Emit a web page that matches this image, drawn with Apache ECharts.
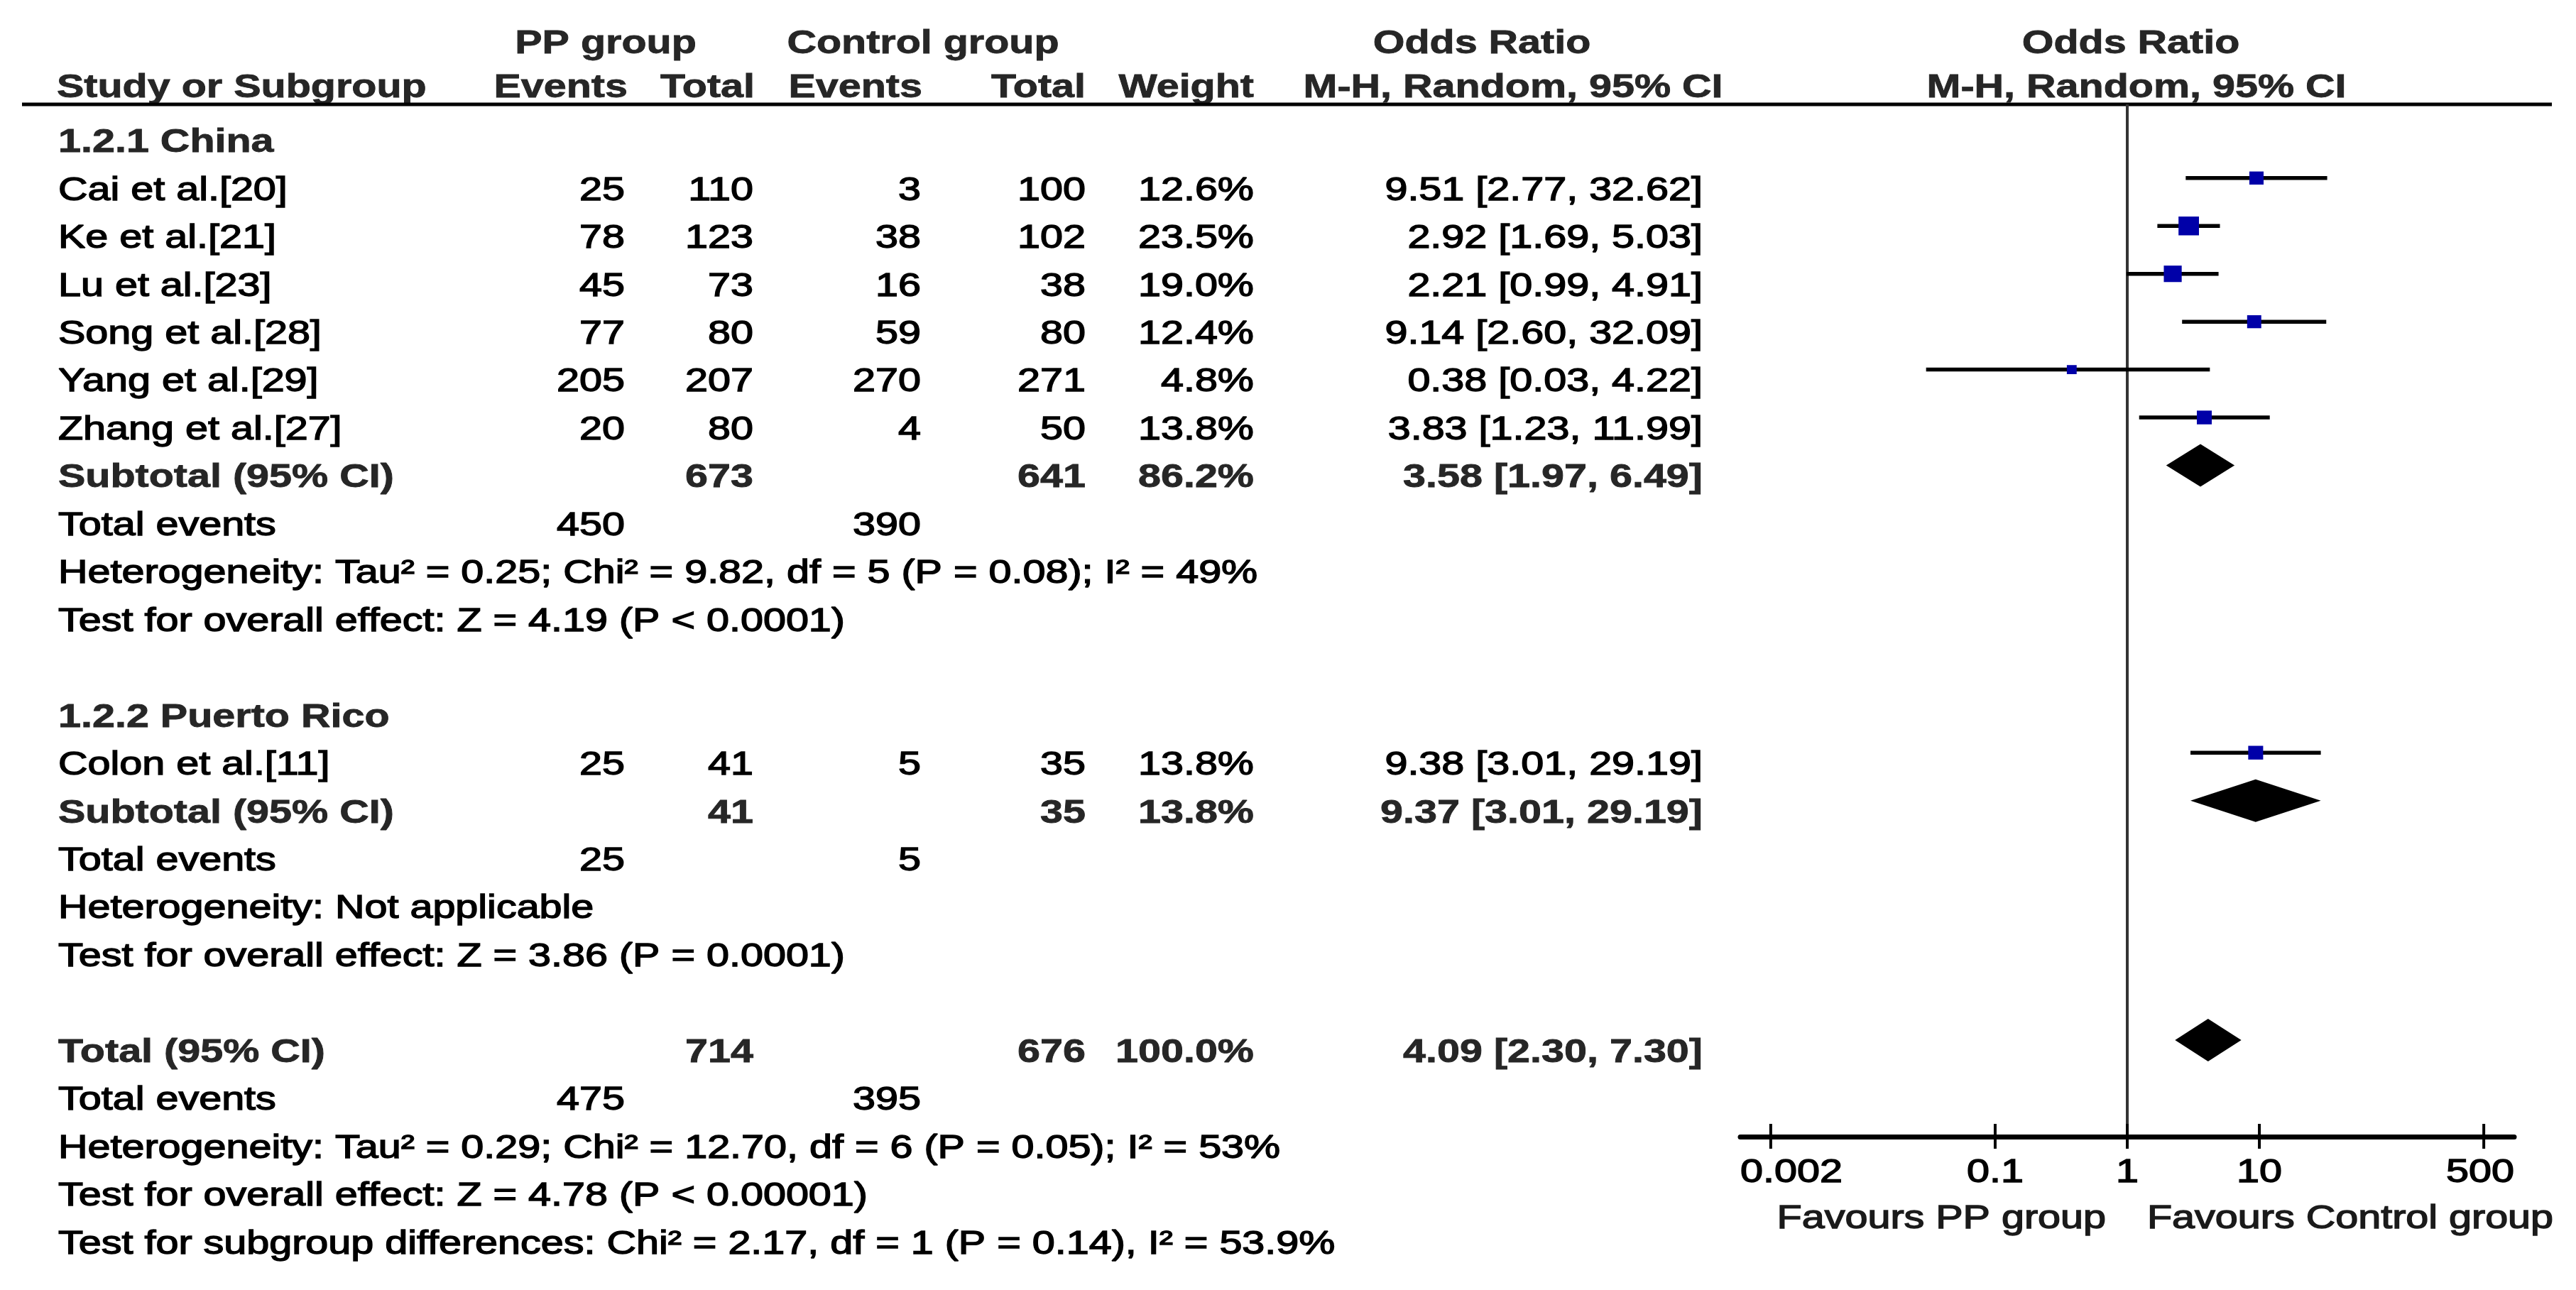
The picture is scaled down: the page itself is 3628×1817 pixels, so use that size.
<!DOCTYPE html>
<html>
<head>
<meta charset="utf-8">
<script src="https://cdn.jsdelivr.net/npm/echarts@6/dist/echarts.min.js"></script>
<style>
html,body{margin:0;padding:0;background:#fff;}
#chart{width:3628px;height:1817px;}
</style>
</head>
<body>
<div id="chart"></div>
<script>
// ---------------- DATA ----------------
const subgroups = ['1.2.1 China', '1.2.2 Puerto Rico'];
const studies = ['Cai et al.[20]', 'Ke et al.[21]', 'Lu et al.[23]', 'Song et al.[28]', 'Yang et al.[29]', 'Zhang et al.[27]', 'Colon et al.[11]'];
const studyGroup = [0, 0, 0, 0, 0, 0, 1];
const ppEvents = [25, 78, 45, 77, 205, 20, 25];
const ppTotal = [110, 123, 73, 80, 207, 80, 41];
const ctrlEvents = [3, 38, 16, 59, 270, 4, 5];
const ctrlTotal = [100, 102, 38, 80, 271, 50, 35];
const weights = [12.6, 23.5, 19.0, 12.4, 4.8, 13.8, 13.8];
const orValues = [9.51, 2.92, 2.21, 9.14, 0.38, 3.83, 9.38];
const ciLow = [2.77, 1.69, 0.99, 2.60, 0.03, 1.23, 3.01];
const ciHigh = [32.62, 5.03, 4.91, 32.09, 4.22, 11.99, 29.19];

// summaries: [China subtotal, Puerto Rico subtotal, overall total]
const summaryLabels = ['Subtotal (95% CI)', 'Subtotal (95% CI)', 'Total (95% CI)'];
const summaryPPTotal = [673, 41, 714];
const summaryCtrlTotal = [641, 35, 676];
const summaryWeight = [86.2, 13.8, 100.0];
const summaryOR = [3.58, 9.37, 4.09];
const summaryLow = [1.97, 3.01, 2.30];
const summaryHigh = [6.49, 29.19, 7.30];
const totalEventsPP = [450, 25, 475];
const totalEventsCtrl = [390, 5, 395];
const heterogeneity = [
  'Heterogeneity: Tau² = 0.25; Chi² = 9.82, df = 5 (P = 0.08); I² = 49%',
  'Heterogeneity: Not applicable',
  'Heterogeneity: Tau² = 0.29; Chi² = 12.70, df = 6 (P = 0.05); I² = 53%'
];
const overallEffect = [
  'Test for overall effect: Z = 4.19 (P < 0.0001)',
  'Test for overall effect: Z = 3.86 (P = 0.0001)',
  'Test for overall effect: Z = 4.78 (P < 0.00001)'
];
const subgroupDiff = 'Test for subgroup differences: Chi² = 2.17, df = 1 (P = 0.14), I² = 53.9%';

const headerTop = ['PP group', 'Control group', 'Odds Ratio', 'Odds Ratio'];
const headerBottom = ['Study or Subgroup', 'Events', 'Total', 'Events', 'Total', 'Weight', 'M-H, Random, 95% CI', 'M-H, Random, 95% CI'];

const tickValues = [0.002, 0.1, 1, 10, 500];
const tickLabels = ['0.002', '0.1', '1', '10', '500'];
const favoursLabels = ['Favours PP group', 'Favours Control group'];

// ---------------- LAYOUT ----------------
const FONT = '"Liberation Sans", Arial, Helvetica, sans-serif';
const FS = 46;          // font size (px)
const SX = 1.25;        // horizontal stretch of the reference text
const ROW0 = 269;       // pixel y of first study row
const ROWH = 67.45;     // row spacing
const MARK_OFF = -0.27; // markers sit slightly above text centre
const GRID_TOP = 147, GRID_BOTTOM_PX = 1601;
const AX_LEFT = 2451, AX_RIGHT = 3541;
const COL = {label: 82, ppE: 880, ppT: 1061, cE: 1297, cT: 1529, w: 1766, or: 2398};
const rowPx = r => ROW0 + ROWH * r;
const yMinRow = (GRID_TOP - ROW0) / ROWH;
const yMaxRow = (GRID_BOTTOM_PX - ROW0) / ROWH;

function textStyle(str, align, bold, color) {
  const c = color || (bold ? '#262626' : '#000');
  return {
    text: String(str), x: 0, y: 0,
    font: (bold ? 'bold ' : '') + FS + 'px ' + FONT,
    fill: c, stroke: c, lineWidth: bold ? 0.8 : 1.4,
    align: align, textAlign: align,
    verticalAlign: 'middle', textVerticalAlign: 'middle'
  };
}
function txt(str, x, y, align, bold, color) {
  return {type: 'text', x: x, y: y, scaleX: SX, scaleY: 1, silent: true, style: textStyle(str, align, bold, color)};
}
const fmtCI = (o, l, h) => o.toFixed(2) + ' [' + l.toFixed(2) + ', ' + h.toFixed(2) + ']';
const fmtW = w => w.toFixed(1) + '%';

// ---------------- TABLE TEXT ----------------
const graphics = [];
graphics.push(txt(headerTop[0], 853, 62, 'center', true));
graphics.push(txt(headerTop[1], 1300, 62, 'center', true));
graphics.push(txt(headerTop[2], 2087, 62, 'center', true));
graphics.push(txt(headerTop[3], 3001, 62, 'center', true));
const hb = 124;
graphics.push(txt(headerBottom[0], 80, hb, 'left', true));
graphics.push(txt(headerBottom[1], 884, hb, 'right', true));
graphics.push(txt(headerBottom[2], 1063, hb, 'right', true));
graphics.push(txt(headerBottom[3], 1299, hb, 'right', true));
graphics.push(txt(headerBottom[4], 1529, hb, 'right', true));
graphics.push(txt(headerBottom[5], 1766, hb, 'right', true));
graphics.push(txt(headerBottom[6], 2131, hb, 'center', true));
graphics.push(txt(headerBottom[7], 3009, hb, 'center', true));
graphics.push({type: 'line', silent: true, shape: {x1: 31, y1: GRID_TOP, x2: 3594, y2: GRID_TOP}, style: {stroke: '#000', lineWidth: 5}});

const studyData = [];
const diamondData = [];
let r = -1;
function summaryBlock(k) {
  const y = rowPx(r);
  graphics.push(txt(summaryLabels[k], COL.label, y, 'left', true));
  graphics.push(txt(summaryPPTotal[k], COL.ppT, y, 'right', true));
  graphics.push(txt(summaryCtrlTotal[k], COL.cT, y, 'right', true));
  graphics.push(txt(fmtW(summaryWeight[k]), COL.w, y, 'right', true));
  graphics.push(txt(fmtCI(summaryOR[k], summaryLow[k], summaryHigh[k]), COL.or, y, 'right', true));
  diamondData.push([summaryOR[k], summaryLow[k], summaryHigh[k], r + MARK_OFF]);
  r++;
  const y2 = rowPx(r);
  graphics.push(txt('Total events', COL.label, y2, 'left', false));
  graphics.push(txt(totalEventsPP[k], COL.ppE, y2, 'right', false));
  graphics.push(txt(totalEventsCtrl[k], COL.cE, y2, 'right', false));
  r++;
  graphics.push(txt(heterogeneity[k], COL.label, rowPx(r), 'left', false));
  r++;
  graphics.push(txt(overallEffect[k], COL.label, rowPx(r), 'left', false));
  r++;
}
subgroups.forEach((g, gi) => {
  graphics.push(txt(g, COL.label, rowPx(r), 'left', true));
  r++;
  studies.forEach((s, i) => {
    if (studyGroup[i] !== gi) return;
    const y = rowPx(r);
    graphics.push(txt(s, COL.label, y, 'left', false));
    graphics.push(txt(ppEvents[i], COL.ppE, y, 'right', false));
    graphics.push(txt(ppTotal[i], COL.ppT, y, 'right', false));
    graphics.push(txt(ctrlEvents[i], COL.cE, y, 'right', false));
    graphics.push(txt(ctrlTotal[i], COL.cT, y, 'right', false));
    graphics.push(txt(fmtW(weights[i]), COL.w, y, 'right', false));
    graphics.push(txt(fmtCI(orValues[i], ciLow[i], ciHigh[i]), COL.or, y, 'right', false));
    studyData.push([orValues[i], ciLow[i], ciHigh[i], r + MARK_OFF, weights[i]]);
    r++;
  });
  summaryBlock(gi);
  r++; // blank line
});
summaryBlock(2);
graphics.push(txt(subgroupDiff, COL.label, rowPx(r), 'left', false));

// ---------------- CHART ----------------
const chart = echarts.init(document.getElementById('chart'), null, {renderer: 'canvas'});
const option = {
  backgroundColor: '#fff',
  animation: false,
  grid: {left: AX_LEFT, right: 3628 - AX_RIGHT, top: GRID_TOP, bottom: 1817 - GRID_BOTTOM_PX, containLabel: false},
  xAxis: {
    type: 'log', logBase: 10, min: 1 / 850, max: 850,
    axisLine: {show: true, onZero: false, lineStyle: {color: '#000', width: 7}},
    axisTick: {show: false}, axisLabel: {show: false}, splitLine: {show: false}
  },
  yAxis: {type: 'value', inverse: true, min: yMinRow, max: yMaxRow, show: false},
  graphic: graphics,
  series: [
    { // line of no effect
      type: 'custom', silent: true, z: 1,
      data: [[1, yMinRow]],
      encode: {x: 0, y: 1},
      renderItem: function (params, api) {
        const a = api.coord([api.value(0), yMinRow]);
        const b = api.coord([api.value(0), yMaxRow]);
        return {type: 'line', shape: {x1: a[0], y1: a[1], x2: b[0], y2: b[1]}, style: {stroke: '#333', lineWidth: 4}};
      }
    },
    { // studies: CI line + weighted square
      type: 'custom', silent: true, z: 3,
      data: studyData,
      encode: {x: [0, 1, 2], y: 3},
      renderItem: function (params, api) {
        const o = api.value(0), lo = api.value(1), hi = api.value(2), yy = api.value(3), w = api.value(4);
        const pl = api.coord([lo, yy]), ph = api.coord([hi, yy]), pc = api.coord([o, yy]);
        const sw = 10 + 0.8 * w, sh = sw * 0.92;
        return {type: 'group', children: [
          {type: 'line', shape: {x1: pl[0], y1: pl[1], x2: ph[0], y2: ph[1]}, style: {stroke: '#000', lineWidth: 5.5}},
          {type: 'rect', shape: {x: pc[0] - sw / 2, y: pc[1] - sh / 2, width: sw, height: sh}, style: {fill: '#0000A8'}}
        ]};
      }
    },
    { // pooled diamonds
      type: 'custom', silent: true, z: 3,
      data: diamondData,
      encode: {x: [0, 1, 2], y: 3},
      renderItem: function (params, api) {
        const o = api.value(0), lo = api.value(1), hi = api.value(2), yy = api.value(3);
        const pl = api.coord([lo, yy]), ph = api.coord([hi, yy]), pc = api.coord([o, yy]);
        const h = 30;
        return {type: 'polygon', shape: {points: [[pl[0], pl[1]], [pc[0], pc[1] - h], [ph[0], ph[1]], [pc[0], pc[1] + h]]}, style: {fill: '#000'}};
      }
    },
    { // axis ticks and labels
      type: 'custom', silent: true, z: 4,
      data: tickValues.map(v => [v, yMaxRow]),
      encode: {x: 0, y: 1},
      renderItem: function (params, api) {
        const i = params.dataIndex;
        const p = api.coord([api.value(0), yMaxRow]);
        let lx = p[0], align = 'center';
        if (i === 0) { lx = api.coord([1 / 850, yMaxRow])[0]; align = 'left'; }
        if (i === tickValues.length - 1) { lx = api.coord([850, yMaxRow])[0]; align = 'right'; }
        return {type: 'group', children: [
          {type: 'line', shape: {x1: p[0], y1: p[1] - 18, x2: p[0], y2: p[1] + 17}, style: {stroke: '#000', lineWidth: 4}},
          {type: 'text', x: lx, y: p[1] + 51, scaleX: SX, style: textStyle(tickLabels[i], align, false)}
        ]};
      }
    },
    { // favours labels around the line of no effect
      type: 'custom', silent: true, z: 4,
      data: [[1, yMaxRow]],
      encode: {x: 0, y: 1},
      renderItem: function (params, api) {
        const p = api.coord([api.value(0), yMaxRow]);
        return {type: 'group', children: [
          {type: 'text', x: p[0] - 30, y: p[1] + 116, scaleX: SX, style: textStyle(favoursLabels[0], 'right', false, '#1a1a1a')},
          {type: 'text', x: p[0] + 28, y: p[1] + 116, scaleX: SX, style: textStyle(favoursLabels[1], 'left', false, '#1a1a1a')}
        ]};
      }
    }
  ]
};
chart.setOption(option);
</script>
</body>
</html>
